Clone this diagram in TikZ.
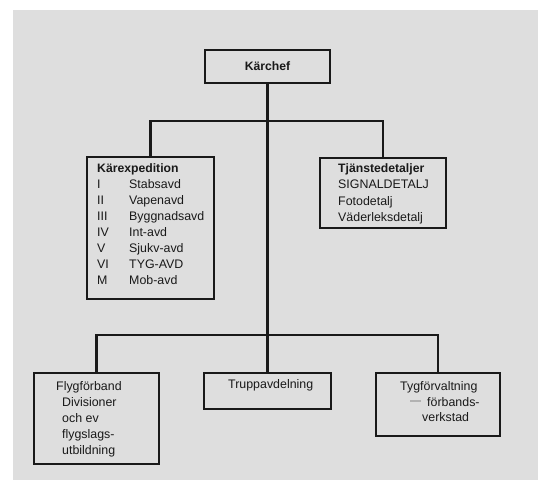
\documentclass[tikz,border=0pt]{standalone}
\usepackage{fontspec}
\setmainfont{Liberation Sans}
\definecolor{bggray}{RGB}{222,222,222}
\definecolor{ink}{RGB}{25,25,25}
\begin{document}
\begin{tikzpicture}[x=1pt,y=-1pt,
  box/.style={draw=ink,line width=1.8pt,minimum width=#1,inner sep=0pt,fill=none},
  conn/.style={draw=ink,line width=2.4pt},
  txt/.style={anchor=base west,inner sep=0pt,text=ink,font=\fontsize{12.4}{14}\selectfont},
  btxt/.style={txt,font=\fontsize{12.2}{14}\selectfont\bfseries}]
\useasboundingbox (0,0) rectangle (538,483);
\fill[white] (0,0) rectangle (538,483);
\fill[bggray] (13,10) rectangle (538,480);
% boxes
\node[box=125pt,minimum height=33pt,font=\fontsize{12.2}{14}\selectfont\bfseries,text=ink] (chef) at (267.5,66.5) {Kärchef};
\node[box=127pt,minimum height=142pt] (exp) at (150.5,228) {};
\node[box=126pt,minimum height=70pt] (tjan) at (383,193) {};
\node[box=125pt,minimum height=91pt] (flyg) at (96.5,418.5) {};
\node[box=127pt,minimum height=36pt] (trupp) at (267.5,391) {};
\node[box=124pt,minimum height=63pt] (tyg) at (438,404.5) {};
% junctions
\coordinate (j1) at (267.5,121);
\coordinate (j2) at (267.5,335);
% connectors
\draw[conn] (chef.south) -- (j2);
\draw[conn] (exp.north) |- (j1) -| (tjan.north);
\draw[conn] (flyg.north) |- (j2) -| (tyg.north);
\draw[conn] (j2) -- (trupp.north);
% Karexpedition text
\node[btxt] (e0) at (97,172) {Kärexpedition};
\node[txt] (e1a) at (97,188) {I};   \node[txt] (e1b) at (129,188) {Stabsavd};
\node[txt] (e2a) at (97,204) {II};  \node[txt] (e2b) at (129,204) {Vapenavd};
\node[txt] (e3a) at (97,220) {III}; \node[txt] (e3b) at (129,220) {Byggnadsavd};
\node[txt] (e4a) at (97,236) {IV};  \node[txt] (e4b) at (129,236) {Int-avd};
\node[txt] (e5a) at (97,252) {V};   \node[txt] (e5b) at (129,252) {Sjukv-avd};
\node[txt] (e6a) at (97,268) {VI};  \node[txt] (e6b) at (129,268) {TYG-AVD};
\node[txt] (e7a) at (97,284) {M};   \node[txt] (e7b) at (129,284) {Mob-avd};
% Tjanstedetaljer text
\node[btxt] (t0) at (338,172) {Tjänstedetaljer};
\node[txt] (t1) at (338,188.5) {SIGNALDETALJ};
\node[txt] (t2) at (338,205) {Fotodetalj};
\node[txt] (t3) at (338,221.5) {Väderleksdetalj};
% Flygforband text
\node[txt] (f0) at (56,390) {Flygförband};
\node[txt] (f1) at (62,406) {Divisioner};
\node[txt] (f2) at (62,422) {och ev};
\node[txt] (f3) at (62,438) {flygslags-};
\node[txt] (f4) at (62,454) {utbildning};
% Truppavdelning
\node[txt] (tr) at (228,388) {Truppavdelning};
% Tygforvaltning
\node[txt] (y0) at (400,390) {Tygförvaltning};
\draw[gray!60,line width=2pt] (410,401) -- (421,401);
\node[txt] (y1) at (427,406) {förbands-};
\node[txt] (y2) at (422,421.5) {verkstad};
\end{tikzpicture}
\end{document}
